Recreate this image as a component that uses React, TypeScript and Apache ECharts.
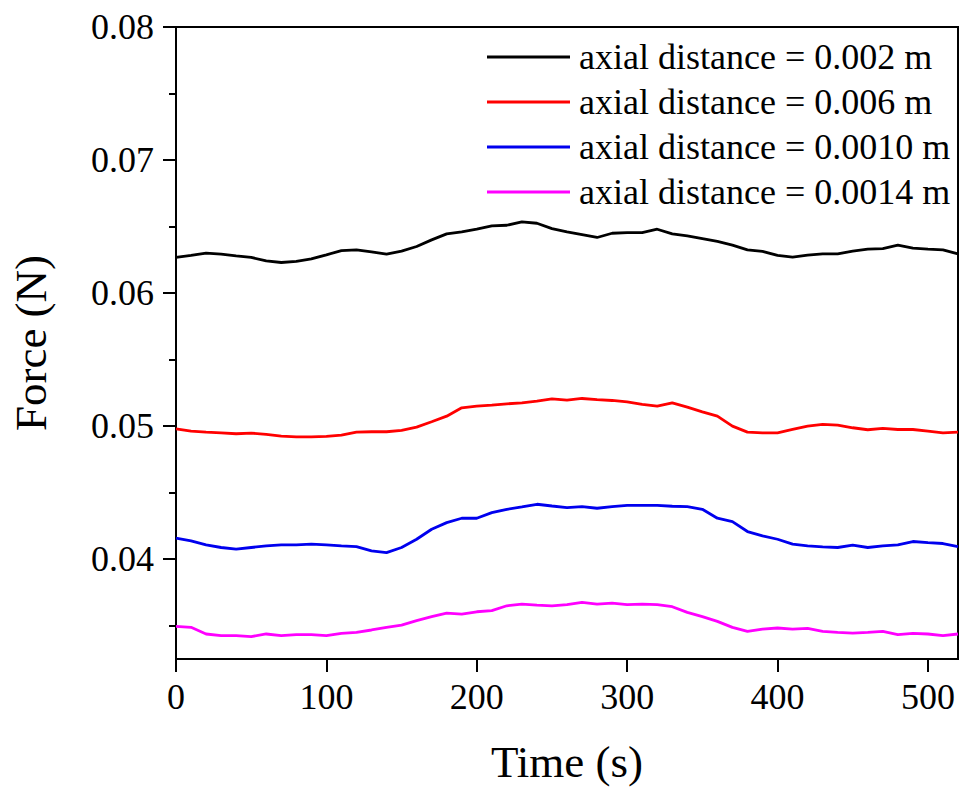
import React, { useEffect, useRef } from "react";
import * as echarts from "echarts";

const times: number[] = [
  0, 10, 20, 30, 40, 50, 60, 70, 80, 90, 100, 110, 120, 130, 140, 150, 160, 170, 180, 190,
  200, 210, 220, 230, 240, 250, 260, 270, 280, 290, 300, 310, 320, 330, 340, 350, 360, 370,
  380, 390, 400, 410, 420, 430, 440, 450, 460, 470, 480, 490, 500, 510, 520,
];

const seriesNames: string[] = [
  "axial distance = 0.002 m",
  "axial distance = 0.006 m",
  "axial distance = 0.0010 m",
  "axial distance = 0.0014 m",
];

const force002: number[] = [
  0.06268, 0.06283, 0.063, 0.06293, 0.0628, 0.06268, 0.06243, 0.0623, 0.06238, 0.06258,
  0.06288, 0.0632, 0.06325, 0.0631, 0.06293, 0.06315, 0.0635, 0.064, 0.06445, 0.0646,
  0.0648, 0.06505, 0.0651, 0.06535, 0.06525, 0.06485, 0.0646, 0.0644, 0.06418, 0.0645,
  0.06455, 0.06455, 0.0648, 0.06445, 0.0643, 0.0641, 0.06388, 0.0636, 0.06325, 0.06313,
  0.06283, 0.0627, 0.06285, 0.06295, 0.06295, 0.06315, 0.0633, 0.06335, 0.0636, 0.06338,
  0.0633, 0.06325, 0.06295,
];

const force006: number[] = [
  0.0498, 0.04963, 0.04955, 0.0495, 0.04943, 0.04948, 0.04938, 0.04925, 0.0492, 0.0492,
  0.04923, 0.04933, 0.04955, 0.04958, 0.04958, 0.04968, 0.04993, 0.05033, 0.05075, 0.05138,
  0.0515, 0.05158, 0.05168, 0.05175, 0.05188, 0.05205, 0.05195, 0.05208, 0.052, 0.05193,
  0.05183, 0.05163, 0.0515, 0.05175, 0.05143, 0.05108, 0.05075, 0.05, 0.04955, 0.0495,
  0.0495, 0.04975, 0.05, 0.05013, 0.05008, 0.04988, 0.04973, 0.04983, 0.04975, 0.04975,
  0.04963, 0.0495, 0.04955,
];

const force0010: number[] = [
  0.04158, 0.04138, 0.04108, 0.04088, 0.04075, 0.04088, 0.041, 0.04108, 0.04108, 0.04113,
  0.04108, 0.041, 0.04095, 0.04063, 0.0405, 0.04088, 0.0415, 0.04225, 0.04275, 0.04308,
  0.04308, 0.0435, 0.04375, 0.04393, 0.04413, 0.044, 0.04388, 0.04395, 0.04383, 0.04395,
  0.04405, 0.04405, 0.04405, 0.04398, 0.04395, 0.04375, 0.04308, 0.04283, 0.04208, 0.04175,
  0.0415, 0.04113, 0.041, 0.04093, 0.04088, 0.04105, 0.04088, 0.041, 0.04108, 0.04133,
  0.04125, 0.04118, 0.04095,
];

const force0014: number[] = [
  0.03495, 0.03488, 0.03438, 0.03425, 0.03425, 0.03418, 0.03438, 0.03425, 0.03433, 0.03433,
  0.03425, 0.03443, 0.0345, 0.03468, 0.03488, 0.03505, 0.03538, 0.03568, 0.03595, 0.03588,
  0.03605, 0.03613, 0.0365, 0.03663, 0.03655, 0.0365, 0.03658, 0.03675, 0.03663, 0.0367,
  0.03658, 0.03663, 0.03658, 0.03643, 0.036, 0.03568, 0.03533, 0.03488, 0.03458, 0.03475,
  0.03483, 0.03475, 0.0348, 0.03458, 0.0345, 0.03445, 0.0345, 0.03458, 0.03433, 0.03443,
  0.03438, 0.03425, 0.03438,
];

const xTicks: number[] = [0, 100, 200, 300, 400, 500];
const yTicks: number[] = [0.04, 0.05, 0.06, 0.07, 0.08];
const yMinorTicks: number[] = [0.035, 0.045, 0.055, 0.065, 0.075];

const colors: string[] = ["#000000", "#ff0000", "#0000ee", "#ff00ff"];

const FONT = "'Liberation Serif', 'Times New Roman', serif";

export default function App() {
  const ref = useRef<HTMLDivElement>(null);

  useEffect(() => {
    if (!ref.current) return;
    const chart = echarts.init(ref.current, undefined, { renderer: "svg" });
    const allSeries = [force002, force006, force0010, force0014];
    chart.setOption({
      animation: false,
      backgroundColor: "#ffffff",
      textStyle: { fontFamily: FONT },
      grid: {
        left: 174,
        top: 27,
        right: 3,
        bottom: 133,
        show: true,
        borderColor: "#000",
        borderWidth: 2,
        backgroundColor: "transparent",
      },
      legend: {
        orient: "vertical",
        left: 487,
        top: 37,
        padding: 0,
        itemGap: 5,
        itemWidth: 83,
        itemHeight: 3,
        icon: "rect",
        data: seriesNames,
        textStyle: {
          fontFamily: FONT,
          fontSize: 36,
          color: "#000",
          lineHeight: 40,
          padding: [0, 0, 0, 4],
        },
      },
      xAxis: {
        type: "value",
        min: 0,
        max: 520,
        name: "Time (s)",
        nameLocation: "middle",
        nameGap: 80,
        nameTextStyle: { fontFamily: FONT, fontSize: 45, color: "#000" },
        axisLine: { show: true, lineStyle: { color: "#000", width: 2 } },
        axisTick: {
          show: true,
          length: 13,
          lineStyle: { color: "#000", width: 2 },
          customValues: xTicks,
        },
        axisLabel: {
          fontFamily: FONT,
          fontSize: 36,
          color: "#000",
          margin: 20,
          customValues: xTicks,
        },
        splitLine: { show: false },
      },
      yAxis: [
        {
          type: "value",
          min: 0.0325,
          max: 0.08,
          name: "Force (N)",
          nameLocation: "middle",
          nameGap: 123,
          nameTextStyle: { fontFamily: FONT, fontSize: 45, color: "#000" },
          axisLine: { show: true, lineStyle: { color: "#000", width: 2 } },
          axisTick: {
            show: true,
            length: 13,
            lineStyle: { color: "#000", width: 2 },
            customValues: yTicks,
          },
          axisLabel: {
            fontFamily: FONT,
            fontSize: 36,
            color: "#000",
            margin: 22,
            customValues: yTicks,
            formatter: (v: number) => v.toFixed(2),
          },
          splitLine: { show: false },
        },
        {
          type: "value",
          min: 0.0325,
          max: 0.08,
          position: "left",
          axisLine: { show: false },
          axisTick: {
            show: true,
            length: 7,
            lineStyle: { color: "#000", width: 2 },
            customValues: yMinorTicks,
          },
          axisLabel: { show: false },
          splitLine: { show: false },
        },
      ],
      series: allSeries.map((vals, i) => ({
        name: seriesNames[i],
        type: "line",
        yAxisIndex: 0,
        symbol: "none",
        data: times.map((t, j) => [t, vals[j]]),
        lineStyle: { color: colors[i], width: 2.8 },
        itemStyle: { color: colors[i] },
      })),
    });
    return () => chart.dispose();
  }, []);

  return (
    <div
      ref={ref}
      style={{ position: "absolute", left: 0, top: 0, width: 961, height: 792 }}
    />
  );
}
